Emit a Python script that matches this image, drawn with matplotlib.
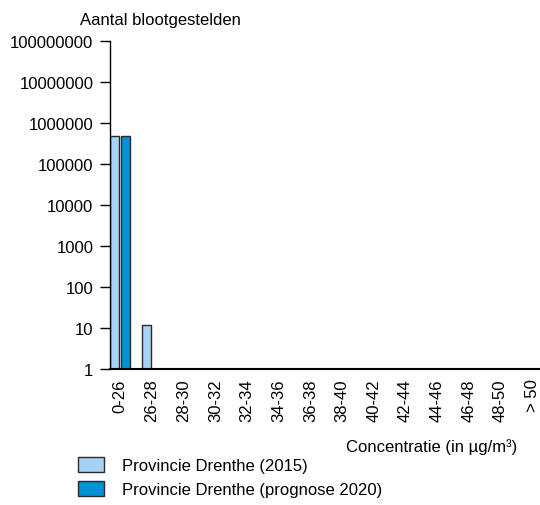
import numpy as np
import matplotlib.pyplot as plt

plt.rcParams['font.family'] = ['Liberation Sans', 'DejaVu Sans']

categories = ['0-26', '26-28', '28-30', '30-32', '32-34', '34-36', '36-38',
              '38-40', '40-42', '42-44', '44-46', '46-48', '48-50', '> 50']
drenthe_2015 = [490000, 12, 1, 1, 1, 1, 1, 1, 1, 1, 1, 1, 1, 1]
drenthe_2020 = [490000, 1, 1, 1, 1, 1, 1, 1, 1, 1, 1, 1, 1, 1]
yticks = [1, 10, 100, 1000, 10000, 100000, 1000000, 10000000, 100000000]

fig = plt.figure(figsize=(5.4, 5.06), dpi=100)
ax = fig.add_axes([0.204, 0.269, 0.796, 0.648])

x = np.arange(len(categories))
w = 0.28
ax.bar(x - 0.17, drenthe_2015, w, color='#a6d3f3', edgecolor='#2a2a2a', lw=1.0,
       label='Provincie Drenthe (2015)')
ax.bar(x + 0.17, drenthe_2020, w, color='#0092d6', edgecolor='#2a2a2a', lw=1.0,
       label='Provincie Drenthe (prognose 2020)')

ax.set_yscale('log')
ax.set_ylim(1, 1e8)
ax.set_xlim(-0.32, 13.25)
ax.set_yticks(yticks)
ax.set_yticklabels([str(v) for v in yticks])
ax.yaxis.set_minor_locator(plt.NullLocator())
ax.set_xticks(x)
ax.set_xticklabels(categories, rotation=90)
ax.tick_params(axis='x', length=0, pad=7, labelsize=12)
ax.tick_params(axis='y', length=7, width=1, pad=5, labelsize=12)
for s in ['top', 'right']:
    ax.spines[s].set_visible(False)
ax.spines['left'].set_linewidth(1)
ax.spines['bottom'].set_linewidth(1.5)

fig.text(0.148, 0.96, 'Aantal blootgestelden', fontsize=12, ha='left', va='center')
fig.text(0.958, 0.117, 'Concentratie (in µg/m³)', fontsize=12, ha='right', va='center')

ax.legend(loc='upper left', bbox_to_anchor=(-0.074, -0.269), frameon=False,
          fontsize=12, handlelength=1.55, handleheight=1.0, labelspacing=0.45,
          handletextpad=1.05, borderaxespad=0, borderpad=0)

plt.savefig('out.png', dpi=100)
